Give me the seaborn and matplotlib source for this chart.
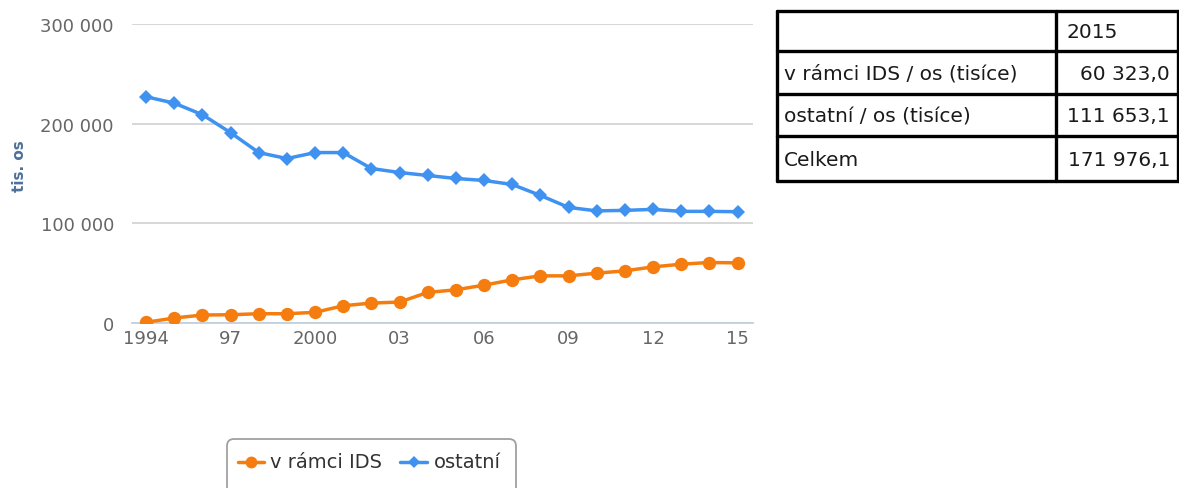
import numpy as np
import pandas as pd
import matplotlib
matplotlib.use("Agg")
import matplotlib.pyplot as plt
from matplotlib.patches import FancyBboxPatch
from matplotlib.lines import Line2D
import seaborn as sns

# Passenger counts (thousand persons) per year
years = list(range(1994, 2016))
ids_values = [700, 5000, 8000, 8300, 9300, 9300, 10700, 17300, 20000, 21000,
              30700, 33300, 38000, 43300, 47300, 47300, 50000, 52300, 56300,
              59000, 60700, 60323.0]
other_values = [227000, 220600, 209000, 191000, 171000, 165000, 171000, 171000,
                155000, 151000, 148000, 145000, 143000, 139000, 128000, 116000,
                112500, 113000, 114000, 112000, 112000, 111653.1]
series_names = ["v rámci IDS", "ostatní"]
y_ticks = [0, 100000, 200000, 300000]
y_tick_labels = ["0", "100 000", "200 000", "300 000"]
x_label_years = [1994, 1997, 2000, 2003, 2006, 2009, 2012, 2015]
x_tick_labels = ["1994", "97", "2000", "03", "06", "09", "12", "15"]
y_title = "tis. os"
table_header = "2015"
table_rows = ["v rámci IDS / os (tisíce)", "ostatní / os (tisíce)", "Celkem"]

ORANGE = "#f57d0f"
BLUE = "#4092f0"
AXIS_COL = "#c0d0e0"
GRID_COL = "#d4d4d4"
TEXT_COL = "#666666"

sns.set_theme(style="white")
plt.rcParams["font.family"] = ["DejaVu Sans"]

df = pd.DataFrame({
    "year": years * 2,
    "value": ids_values + other_values,
    "series": [series_names[0]] * len(years) + [series_names[1]] * len(years),
})

fig = plt.figure(figsize=(11.79, 4.89), dpi=100)
ax = fig.add_axes([132 / 1179, 1 - 324 / 489, (753 - 132) / 1179, (324 - 25) / 489])

sns.lineplot(data=df[df.series == series_names[0]], x="year", y="value", ax=ax,
             color=ORANGE, linewidth=2.5, marker="o", markersize=9.6,
             markeredgewidth=0, legend=False, zorder=3)
sns.lineplot(data=df[df.series == series_names[1]], x="year", y="value", ax=ax,
             color=BLUE, linewidth=2.5, marker="D", markersize=7.6,
             markeredgewidth=0, legend=False, zorder=3)

ax.set_xlim(1993.5, 2015.55)
ax.set_ylim(0, 300000)
ax.set_yticks(y_ticks)
ax.set_yticklabels(y_tick_labels, color=TEXT_COL, fontsize=13)
ax.yaxis.grid(True, color=GRID_COL, linewidth=1.3)
ax.tick_params(axis="y", length=0, pad=13)

# category ticks sit between years; labels under every third year
ax.set_xticks(x_label_years)
ax.set_xticklabels(x_tick_labels, color=TEXT_COL, fontsize=13)
ax.tick_params(axis="x", length=0, pad=4)
ax.set_xticks(np.arange(1993.5, 2016, 1.0), minor=True)
ax.tick_params(axis="x", which="minor", length=8, width=1.1, color=AXIS_COL, direction="out")

for side in ["top", "right", "left"]:
    ax.spines[side].set_visible(False)
ax.spines["bottom"].set_color(AXIS_COL)
ax.spines["bottom"].set_linewidth(1.3)
ax.set_xlabel("")
ax.set_ylabel("")
fig.text(20 / 1179, 1 - 166 / 489, y_title, rotation=90, ha="center", va="center",
         color="#4d7199", fontsize=11, fontweight="bold")

# legend box
leg_ax = fig.add_axes([0, 0, 1, 1], facecolor="none")
leg_ax.set_xlim(0, 1179)
leg_ax.set_ylim(489, 0)
leg_ax.axis("off")
leg_ax.add_patch(FancyBboxPatch((227, 440), 289, 60, boxstyle="round,pad=0,rounding_size=7",
                                facecolor="white", edgecolor="#a0a0a0", linewidth=1.3))
leg_ax.add_line(Line2D([238, 264], [463, 463], color=ORANGE, linewidth=2.5))
leg_ax.plot([251], [463], marker="o", color=ORANGE, markersize=8.5, markeredgewidth=0)
leg_ax.text(270, 463, series_names[0], va="center", ha="left", fontsize=14,
            color="#333333")
leg_ax.add_line(Line2D([400, 427], [463, 463], color=BLUE, linewidth=2.5))
leg_ax.plot([413.5], [463], marker="D", color=BLUE, markersize=6.2, markeredgewidth=0)
leg_ax.text(434, 463, series_names[1], va="center", ha="left", fontsize=14,
            color="#333333")

# summary table for the last year
last_ids = ids_values[-1]
last_other = other_values[-1]
table_values = [last_ids, last_other, last_ids + last_other]


def fmt(v):
    whole, frac = f"{v:.1f}".split(".")
    whole = f"{int(whole):,}".replace(",", " ")
    return f"{whole},{frac}"


x0, x1, x2 = 777, 1056, 1178
row_y = [12, 52, 95, 137, 182]
lw = 2.4
for y in row_y:
    leg_ax.add_line(Line2D([x0, x2], [y, y], color="black", linewidth=lw))
for x in [x0, x1, x2]:
    leg_ax.add_line(Line2D([x, x], [row_y[0], row_y[-1]], color="black", linewidth=lw))
leg_ax.text(x1 + 10, (row_y[0] + row_y[1]) / 2 + 1, table_header, va="center", ha="left",
            fontsize=14.5, color="#1a1a1a")
for i, (lab, val) in enumerate(zip(table_rows, table_values)):
    yc = (row_y[i + 1] + row_y[i + 2]) / 2 + 1
    leg_ax.text(x0 + 7, yc, lab, va="center", ha="left", fontsize=14.5, color="#1a1a1a")
    leg_ax.text(x2 - 8, yc, fmt(val), va="center", ha="right", fontsize=14.5, color="#1a1a1a")

fig.savefig("out.png", dpi=100, facecolor="white")
